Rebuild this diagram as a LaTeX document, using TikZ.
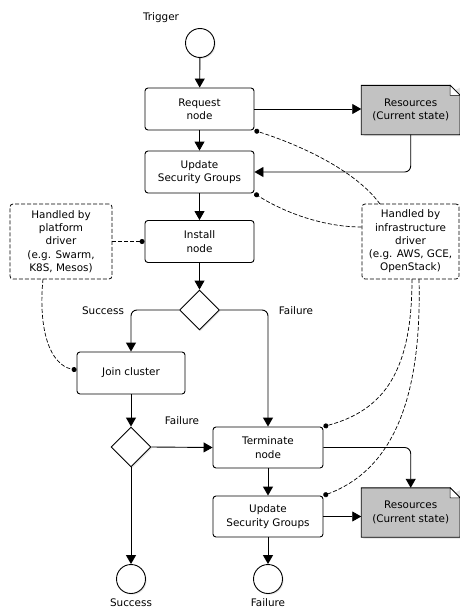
\documentclass[tikz,border=0pt]{standalone}
\usepackage{fontspec}
\setmainfont{DejaVu Sans}
\usetikzlibrary{arrows.meta,shapes.geometric,shadows}
\definecolor{resgray}{HTML}{C2C2C2}
\begin{document}
\begin{tikzpicture}[x=1pt,y=-1pt,
  font=\fontsize{10.4}{13.3}\selectfont,
  box/.style={draw, rounded corners=3pt, line width=0.9pt, fill=white, align=center, inner sep=0pt, minimum width=109pt, minimum height=42pt},
  dbox/.style={draw, dash pattern=on 4pt off 2pt, rounded corners=3pt, line width=0.8pt, fill=white, align=center, inner sep=0pt, minimum width=102pt, minimum height=75pt},
  resnode/.style={inner sep=0pt, align=center, minimum width=98.5pt, minimum height=49pt},
  ev/.style={circle, draw, line width=0.9pt, fill=white, minimum size=29pt, inner sep=0pt, drop shadow={shadow xshift=1.2pt, shadow yshift=-1.2pt, opacity=0.2}},
  dec/.style={diamond, aspect=1, draw, line width=0.9pt, fill=white, minimum width=40pt, minimum height=40pt, inner sep=0pt, drop shadow={shadow xshift=1.2pt, shadow yshift=-1.2pt, opacity=0.2}},
  lbl/.style={inner sep=1pt},
  arr/.style={line width=0.9pt, -{Triangle[length=9pt,width=10pt]}},
  rarr/.style={arr, rounded corners=6pt},
  dcon/.style={line width=0.7pt, dash pattern=on 4pt off 2pt, -{Circle[length=5pt]}}
]
\useasboundingbox (0,0) rectangle (459,610);

% labels
\node[lbl] (ltrig) at (161,18) {Trigger};
\node[lbl] (lsucc1) at (103,311) {Success};
\node[lbl] (lfail1) at (296,311) {Failure};
\node[lbl] (lfail2) at (182,421) {Failure};
\node[lbl] (lsucc2) at (131,603) {Success};
\node[lbl] (lfail3) at (268,603) {Failure};

% main nodes
\node[ev] (trig) at (200,43) {};
\node[box] (req) at (199.5,109) {Request\\node};
\node[box] (usg1) at (199.5,172) {Update\\Security Groups};
\node[box] (inst) at (199.5,241.5) {Install\\node};
\node[dec] (d1) at (199.5,310) {};
\node[box, minimum width=108pt] (join) at (131,373) {Join cluster};
\node[dec] (d2) at (131,447) {};
\node[box, minimum width=110pt, minimum height=41pt] (term) at (268,447.5) {Terminate\\node};
\node[box, minimum width=110pt, minimum height=41pt] (usg2) at (268,516.5) {Update\\Security Groups};
\node[ev] (succ) at (131,579) {};
\node[ev] (fail) at (268,579) {};

% driver boxes
\node[dbox] (plat) at (61,241.5) {Handled by\\platform\\driver\\(e.g. Swarm,\\K8S, Mesos)};
\node[dbox, minimum width=97pt] (infra) at (410.5,241.5) {Handled by\\infrastructure\\driver\\(e.g. AWS, GCE,\\OpenStack)};

% resources (note shapes)
\node[resnode] (res1) at (410.7,110) {};
\node[resnode] (res2) at (410.7,512.5) {};
\foreach \r in {res1,res2}{
  \fill[black!25, opacity=0.5] ([xshift=1.5pt,yshift=-1.5pt]\r.south west) -- ([xshift=1.5pt,yshift=-1.5pt]\r.south east) -- ([xshift=1.5pt,yshift=-1.5pt]\r.north east) -- cycle;
  \draw[line width=0.9pt, fill=resgray] (\r.south west) -- (\r.north west) -- ([xshift=-10pt]\r.north east) -- ([yshift=-10pt]\r.north east) -- (\r.south east) -- cycle;
  \draw[line width=0.6pt, fill=white] ([xshift=-10pt]\r.north east) -- ([xshift=-10pt,yshift=-10pt]\r.north east) -- ([yshift=-10pt]\r.north east) -- cycle;
}
\node[resnode] (res1t) at (res1) {Resources\\(Current state)};
\node[resnode] (res2t) at (res2) {Resources\\(Current state)};

% solid connectors
\draw[arr] (trig) -- (req);
\draw[arr] (req.east) -- (req.east -| res1.west);
\draw[rarr] (res1.south) |- (usg1.east);
\draw[arr] (req) -- (usg1);
\draw[arr] (usg1) -- (inst);
\draw[arr] (inst) -- (d1);
\draw[rarr] (d1.west) -| (join.north);
\draw[rarr] (d1.east) -| (term.north);
\draw[arr] (join) -- (d2);
\draw[arr] (d2.east) -- (term.west);
\draw[arr] (d2) -- (succ);
\draw[arr] (term) -- (usg2);
\draw[rarr] (term.east) -| (res2.north);
\draw[arr] (usg2.east) -- (usg2.east -| res2.west);
\draw[arr] (usg2) -- (fail);

% dashed connectors
\coordinate (i1) at (380,204);
\coordinate (i2) at (infra.west |- 0,227);
\coordinate (i3) at (412,279);
\coordinate (i4) at (419,279);
\coordinate (p1) at (43,279);
\draw[dcon] (i1) .. controls (355,170) and (300,145) .. (req.south east);
\draw[dcon] (i2) .. controls (320,227) and (280,210) .. (usg1.south east);
\draw[dcon] (i3) .. controls (412,370) and (385,410) .. (term.north east);
\draw[dcon] (i4) .. controls (422,400) and (392,470) .. (usg2.north east);
\draw[dcon] (p1) .. controls (38,330) and (50,365) .. (join.west |- 0,370);
\draw[dcon] (plat.east) -- (inst.west);
\end{tikzpicture}
\end{document}
